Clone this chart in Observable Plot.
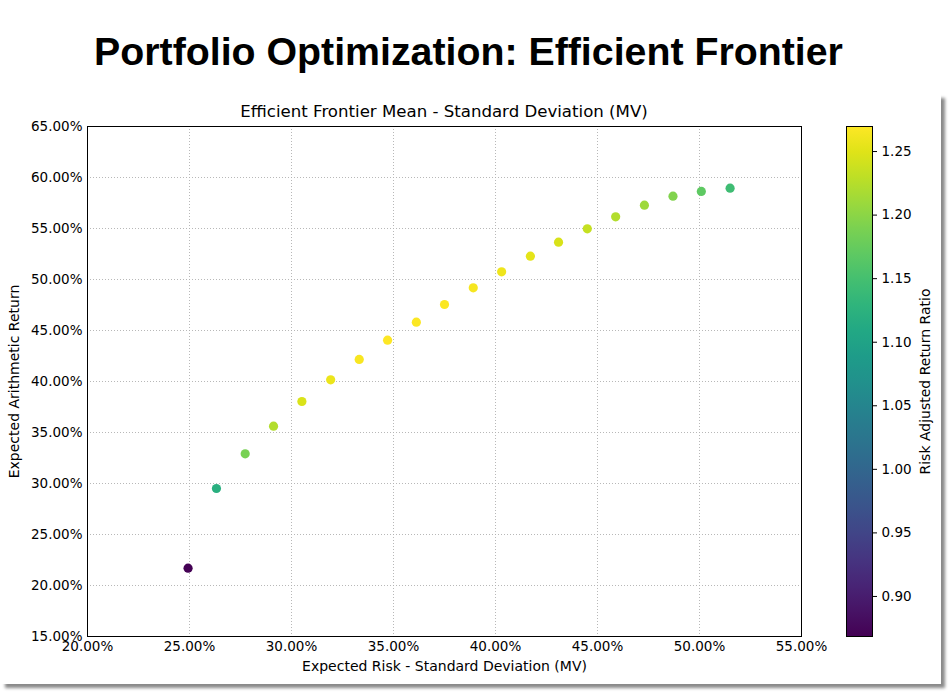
<!DOCTYPE html>
<html>
<head>
<meta charset="utf-8">
<script src="https://cdn.jsdelivr.net/npm/d3@7"></script>
<script src="https://cdn.jsdelivr.net/npm/@observablehq/plot@0.6"></script>
<style>
  html, body { margin: 0; padding: 0; background: #fff; }
  #page { position: relative; width: 950px; height: 693px; overflow: hidden; background: #fff; }
  #title { position: absolute; left: 0; top: 27px; width: 937px; text-align: center;
    font-family: "Liberation Sans", Arial, sans-serif; font-weight: bold; font-size: 39.3px; line-height: 48px; color: #000; }
  #box { position: absolute; left: 1px; top: 94px; width: 940px; height: 590px; background: #fff;
    box-shadow: 4px 4px 3px #8a8a8a; }
  #subtitle { position: absolute; left: 87px; width: 714px; top: 102px; text-align: center;
    font-family: "DejaVu Sans", sans-serif; font-size: 16.6px; line-height: 20px; color: #000; }
  #main { position: absolute; left: 0; top: 90px; }
  #cbar { position: absolute; left: 820px; top: 90px; }
  svg text { fill: #000; }
</style>
</head>
<body>
<div id="page">
  <div id="box"></div>
  <div id="title">Portfolio Optimization: Efficient Frontier</div>
  <div id="subtitle">Efficient Frontier Mean - Standard Deviation (MV)</div>
  <div id="main"></div>
  <div id="cbar"></div>
</div>
<script>
// Data (percent values)
const risk = [24.93, 26.32, 27.73, 29.12, 30.51, 31.92, 33.32, 34.71, 36.12, 37.50,
              38.91, 40.30, 41.71, 43.09, 44.50, 45.89, 47.30, 48.70, 50.09, 51.50];
const ret  = [21.70, 29.51, 32.91, 35.62, 38.04, 40.16, 42.16, 44.05, 45.82, 47.55,
              49.18, 50.75, 52.29, 53.66, 54.97, 56.14, 57.29, 58.17, 58.63, 58.95];
const ratio = [0.870, 1.121, 1.187, 1.223, 1.247, 1.258, 1.265, 1.269, 1.268, 1.268,
               1.264, 1.259, 1.254, 1.245, 1.235, 1.223, 1.211, 1.194, 1.170, 1.145];
const xTicks = [20, 25, 30, 35, 40, 45, 50, 55];
const yTicks = [15, 20, 25, 30, 35, 40, 45, 50, 55, 60, 65];
const cTicks = [0.90, 0.95, 1.00, 1.05, 1.10, 1.15, 1.20, 1.25];
const colorDomain = [0.8685, 1.2697];

const points = risk.map((r, i) => ({risk: r, ret: ret[i], ratio: ratio[i]}));
const pct = d => d.toFixed(2) + "%";

const H = 600, MT = 36, MB = 54;
const baseStyle = {fontFamily: "DejaVu Sans, sans-serif", fontSize: "13.5px", background: "transparent", color: "#000", overflow: "visible"};

const main = Plot.plot({
  width: 830, height: H,
  marginLeft: 87, marginRight: 29, marginTop: MT, marginBottom: MB,
  style: baseStyle,
  x: {domain: [20, 55], ticks: xTicks, tickFormat: pct, tickSize: 0, tickPadding: 5,
      label: "Expected Risk - Standard Deviation (MV)", labelAnchor: "center", labelOffset: 34},
  y: {domain: [15, 65], ticks: yTicks, tickFormat: pct, tickSize: 0, tickPadding: 5,
      label: "Expected Arithmetic Return", labelAnchor: "center", labelOffset: 78},
  color: {type: "linear", scheme: "viridis", domain: colorDomain},
  marks: [
    Plot.gridX(xTicks, {stroke: "#b0b0b0", strokeOpacity: 1, strokeDasharray: "1,2", strokeWidth: 0.9}),
    Plot.gridY(yTicks, {stroke: "#b0b0b0", strokeOpacity: 1, strokeDasharray: "1,2", strokeWidth: 0.9}),
    Plot.frame({stroke: "#000", strokeWidth: 1}),
    Plot.dot(points, {x: "risk", y: "ret", fill: "ratio", r: 4.6, stroke: "none"})
  ]
});
document.getElementById("main").appendChild(main);

// Colorbar
const cbar = Plot.plot({
  width: 125, height: H,
  marginLeft: 26, marginRight: 73, marginTop: MT, marginBottom: MB,
  style: baseStyle,
  x: {domain: [0, 1], axis: null},
  y: {domain: colorDomain, axis: "right", ticks: cTicks, tickFormat: d => d.toFixed(2), tickSize: 4, tickPadding: 5,
      label: "Risk Adjusted Return Ratio", labelAnchor: "center", labelOffset: 57},
  marks: [
    Plot.frame({fill: "url(#cbgrad)", stroke: "#000", strokeWidth: 1})
  ]
});
const defs = d3.select(cbar).insert("defs", ":first-child");
const grad = defs.append("linearGradient").attr("id", "cbgrad")
  .attr("x1", 0).attr("y1", 1).attr("x2", 0).attr("y2", 0);
d3.range(0, 1.0001, 0.05).forEach(t => {
  grad.append("stop").attr("offset", t).attr("stop-color", d3.interpolateViridis(t));
});
document.getElementById("cbar").appendChild(cbar);

// Axis labels: matplotlib style (no arrows), slightly larger
const labelTexts = new Set(["Expected Risk - Standard Deviation (MV)", "Expected Arithmetic Return", "Risk Adjusted Return Ratio"]);
for (const svg of [main, cbar]) {
  d3.select(svg).selectAll("text").each(function() {
    const t = this.textContent.replace(/\s*[→↑←↓]\s*/g, "").trim();
    if (labelTexts.has(t)) {
      this.textContent = t;
      this.style.fontSize = "14px";
    }
  });
}
</script>
</body>
</html>
